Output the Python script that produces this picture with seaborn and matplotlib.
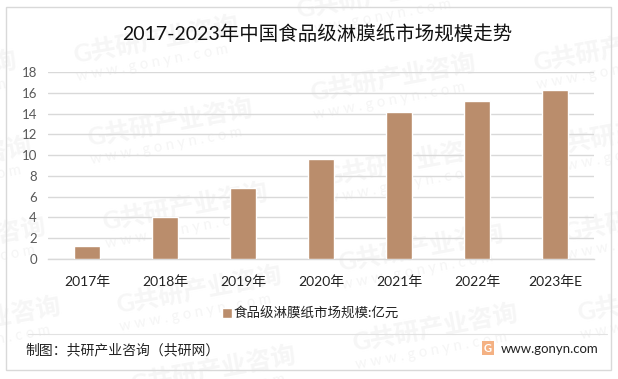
import pandas as pd
import matplotlib
matplotlib.use('Agg')
import matplotlib.pyplot as plt
from matplotlib.patches import Rectangle
from matplotlib.lines import Line2D
import seaborn as sns

# =====================
# DATA
# =====================
years = ['2017年', '2018年', '2019年', '2020年', '2021年', '2022年', '2023年E']
market_size = [1.25, 4.05, 6.85, 9.6, 14.15, 15.2, 16.27]
y_ticks = [0, 2, 4, 6, 8, 10, 12, 14, 16, 18]
title_text = '2017-2023年中国食品级淋膜纸市场规模走势'
legend_text = '食品级淋膜纸市场规模:亿元'
source_text = '制图：共研产业咨询（共研网）'
site_text = 'www.gonyn.com'

# watermark anchor points, pixels
wm_x = [-149, -134, -120, -105, 73, 87, 102, 116, 130, 296, 310, 324, 338, 352, 533, 548, 563, 577]
wm_y = [90, 176, 256, 336, 55, 138, 222, 305, 385, 10, 93, 177, 263, 343, 63, 147, 233, 313]

BAR = '#BA8D6C'
FONT = ['Lato', 'Noto Sans CJK SC', 'DejaVu Sans']
W, H = 618, 379

sns.set_theme(style='white')
plt.rcParams['font.family'] = FONT

df = pd.DataFrame({'year': years, 'size': market_size})

fig = plt.figure(figsize=(W / 100, H / 100), dpi=100, facecolor='white')
ax = fig.add_axes([48 / W, 1 - 259 / H, 546 / W, 187 / H])
ax.patch.set_alpha(0)
ax.set_zorder(2)


def fx(px):
    return px / W


def fy(py):
    return 1 - py / H


# =====================
# WATERMARK
# =====================
for x, y in zip(wm_x, wm_y):
    fig.text(fx(x), fy(y), 'G共研产业咨询', fontsize=18, fontweight='bold', color='#F6F6F6',
             rotation=10.5, ha='left', va='center', rotation_mode='anchor', zorder=0)
    fig.text(fx(x + 4), fy(y + 22), 'w w w . g o n y n . c o m', fontsize=10.5, color='#F5F5F5',
             rotation=10.5, ha='left', va='center', rotation_mode='anchor', zorder=0)

# =====================
# BARS
# =====================
sns.barplot(data=df, x='year', y='size', color=BAR, width=0.33, saturation=1,
            label=legend_text, legend=False, ax=ax, zorder=3)
ax.set_xlim(-0.5, 6.5)
ax.set_ylim(0, 18)
ax.set_yticks(y_ticks)
ax.set_xlabel('')
ax.set_ylabel('')
ax.yaxis.grid(True, color='#D9D9D9', lw=1, zorder=0)
ax.set_axisbelow(True)
for side in ['top', 'right', 'left']:
    ax.spines[side].set_visible(False)
ax.spines['bottom'].set_color('#D9D9D9')
ax.spines['bottom'].set_linewidth(1)
ax.tick_params(axis='x', length=0, pad=12, labelsize=10, labelcolor='#222222')
ax.tick_params(axis='y', length=0, pad=8, labelsize=9.5, labelcolor='#595959')

# =====================
# TEXTS, LEGEND, FRAME
# =====================
fig.text(fx(317), fy(34), title_text, fontsize=14, color='#111111', ha='center', va='center')

leg = ax.legend(loc='center', bbox_to_anchor=(fx(310), fy(313)), bbox_transform=fig.transFigure,
                frameon=False, fontsize=9.7, handlelength=0.75, handleheight=0.75, handletextpad=0.1,
                labelcolor='#222222')

fig.add_artist(Rectangle((fx(6), fy(370)), 605 / W, 363 / H, transform=fig.transFigure,
                         fill=False, edgecolor='#D9D9D9', lw=1))
fig.add_artist(Line2D([fx(28), fx(607)], [fy(334), fy(334)], color='#E2E2E2', lw=0.8))

fig.text(fx(25), fy(350), source_text, fontsize=10, color='#222222', ha='left', va='center')
fig.add_artist(Rectangle((fx(482), fy(355)), 12 / W, 14 / H, transform=fig.transFigure,
                         facecolor='#F4B183', edgecolor='none'))
fig.text(fx(488), fy(348), 'G', fontsize=8, fontweight='bold', color='white', ha='center', va='center')
fig.text(fx(501), fy(349), site_text, fontsize=9.5, color='#222222', ha='left', va='center')

plt.savefig('out.png', dpi=100)
plt.close()
